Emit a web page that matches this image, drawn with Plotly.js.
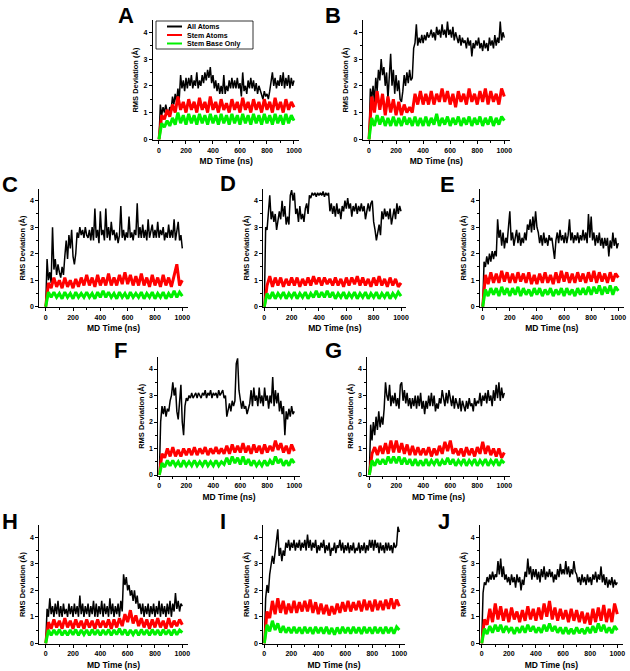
<!DOCTYPE html>
<html><head><meta charset="utf-8">
<script src="https://cdn.plot.ly/plotly-3.0.1.min.js"></script>
<style>body{margin:0;background:#fff}</style>
</head><body><div id="chart" style="width:630px;height:671px"></div>
<script>
// ---------- DATA ----------
// All-atom traces are read every 10 ns; stem traces every 20 ns.
const time10 = [0,10,20,30,40,50,60,70,80,90,100,110,120,130,140,150,160,170,180,190,200,210,220,230,240,250,260,270,280,290,300,310,320,330,340,350,360,370,380,390,400,410,420,430,440,450,460,470,480,490,500,510,520,530,540,550,560,570,580,590,600,610,620,630,640,650,660,670,680,690,700,710,720,730,740,750,760,770,780,790,800,810,820,830,840,850,860,870,880,890,900,910,920,930,940,950,960,970,980,990,1000];
const time20 = [0,20,40,60,80,100,120,140,160,180,200,220,240,260,280,300,320,340,360,380,400,420,440,460,480,500,520,540,560,580,600,620,640,660,680,700,720,740,760,780,800,820,840,860,880,900,920,940,960,980,1000];
const seriesNames = ['All Atoms','Stem Atoms','Stem Base Only'];
const panelLabels = ['A','B','C','D','E','F','G','H','I','J'];
const xTickVals = [0,200,400,600,800,1000];
const yTickVals = [0,1,2,3,4];
const xTitle = 'MD Time (ns)';
const yTitle = 'RMS Deviation (Å)';

const allA = [0, 1.3,0.9,1.2,1.0,1.3,1.05,0.95,1.2,1.1,1.6, 1.3,1.7,1.4,1.9,1.5,2.4,1.9,2.2,1.8,2.3, 1.9,2.3,2.0,2.4,1.9,2.2,2.0,2.5,1.9,2.2, 2.0,2.4,2.1,2.5,2.2,2.6,2.3,2.7,2.1,2.4, 1.9,2.2,1.8,2.1,1.7,2.0,1.7,2.4,1.7,2.0, 1.8,2.2,1.9,2.3,1.9,2.2,1.9,2.3,1.9,2.1, 1.6,2.5,1.8,2.0,1.7,2.2,1.9,2.3,1.9,2.2, 1.8,2.1,1.7,2.0,1.8,1.7,1.5,1.8,1.6,1.7, 1.5,1.8,2.1,2.5,2.0,2.3,1.9,2.2,2.0,2.4, 2.0,2.5,1.9,2.3,2.0,2.4,1.9,2.3,2.0,2.2];
const stemA = [0, 0.9,0.75,1.1,0.85,1.3,1.0,1.6,1.1,1.4,1.0, 1.5,1.1,1.4,1.0,1.55,1.1,1.4,1.0,1.6,1.1, 1.4,1.0,1.5,1.1,1.35,1.0,1.5,1.1,1.4,1.0, 1.55,1.1,1.4,1.0,1.5,1.1,1.4,1.0,1.5,1.1, 1.4,1.0,1.55,1.1,1.4,1.0,1.5,1.1,1.4,1.2];
const baseA = [0, 0.6,0.45,0.7,0.5,0.8,0.55,1.0,0.6,0.9,0.55, 0.95,0.6,0.9,0.55,0.95,0.6,0.9,0.55,0.95,0.6, 0.9,0.55,0.95,0.6,0.9,0.55,0.95,0.6,0.9,0.55, 0.95,0.6,0.9,0.55,0.95,0.6,0.9,0.55,0.95,0.6, 0.9,0.55,0.95,0.6,0.9,0.55,0.95,0.6,0.9,0.7];

const allB = [0, 1.9,1.5,2.0,1.4,2.3,1.8,2.6,2.2,3.0,2.4, 2.7,2.0,2.5,1.5,2.2,3.2,2.0,2.6,1.7,2.4, 1.8,2.2,1.5,1.4,1.8,2.4,2.0,2.5,2.1,2.6, 2.2,2.3,3.4,3.6,4.3,3.5,3.8,3.6,3.9,3.6, 3.9,3.7,4.0,3.8,3.9,4.1,3.8,4.0,3.7,4.2, 3.9,4.1,3.8,4.3,3.9,4.1,3.8,4.4,3.9,4.1, 3.8,4.2,3.7,4.0,3.8,3.6,3.9,3.5,3.8,3.6, 3.7,3.4,3.8,3.5,3.7,3.1,3.6,3.4,3.7,3.5, 3.8,3.4,3.6,3.3,3.7,3.4,3.6,3.3,3.8,3.5, 3.7,3.4,3.9,3.5,3.8,3.6,4.4,3.7,4.0,3.8];
const stemB = [0, 1.6,1.0,1.8,1.1,1.7,0.9,1.6,1.0,1.5,0.9, 1.4,0.9,1.3,1.0,1.2,1.0,1.7,1.3,1.8,1.3, 1.7,1.3,1.8,1.3,1.7,1.4,1.9,1.4,1.8,1.3, 1.7,1.2,1.8,1.4,1.7,1.3,1.9,1.4,1.7,1.3, 1.8,1.4,1.9,1.3,1.8,1.4,1.7,1.3,1.9,1.6];
const baseB = [0, 0.8,0.5,0.9,0.55,0.85,0.5,0.8,0.5,0.85,0.5, 0.8,0.5,0.85,0.55,0.8,0.5,0.85,0.5,0.8,0.5, 0.85,0.5,0.8,0.55,0.95,0.5,0.8,0.55,0.85,0.5, 0.8,0.55,0.85,0.5,0.8,0.55,0.85,0.5,0.8,0.55, 0.85,0.5,0.8,0.55,0.85,0.5,0.8,0.55,0.85,0.7];

const allC = [0, 1.8,1.0,1.3,0.9,3.0,1.4,1.8,1.2,1.6,1.3, 1.1,1.5,1.2,1.9,2.5,1.8,2.7,2.2,2.9,1.9, 1.6,2.0,2.8,2.6,3.0,2.7,2.9,2.6,3.0,2.7, 2.6,2.9,2.5,3.0,2.5,3.7,2.6,2.9,2.4,3.6, 2.7,2.9,2.5,3.7,2.6,3.0,2.5,3.2,2.7,2.9, 2.5,2.8,2.4,2.7,3.8,2.6,2.9,2.5,2.8,2.6, 3.4,2.6,2.8,2.5,2.9,2.7,3.9,2.6,3.0,2.6, 3.1,2.6,2.9,2.5,3.3,2.6,2.8,3.1,2.6,2.9, 2.6,3.2,2.6,2.9,2.7,3.0,2.5,2.8,2.6,3.1, 2.6,2.9,2.6,3.3,2.5,2.8,3.2,2.5,2.7,2.2];
const stemC = [0, 0.9,0.7,1.1,0.75,1.0,0.7,1.1,0.75,1.0,0.7, 1.05,0.75,1.1,0.8,1.2,0.8,1.1,0.75,1.2,0.8, 1.1,0.8,1.25,0.8,1.1,0.8,1.2,0.85,1.3,0.85, 1.2,0.8,1.15,0.8,1.25,0.8,1.1,0.75,1.2,0.8, 1.1,0.75,1.2,0.8,1.1,0.75,1.2,1.6,0.8,1.0];
const baseC = [0, 0.55,0.35,0.55,0.35,0.5,0.3,0.55,0.35,0.5,0.3, 0.55,0.35,0.5,0.35,0.55,0.35,0.5,0.3,0.55,0.35, 0.6,0.35,0.55,0.35,0.5,0.3,0.55,0.35,0.5,0.3, 0.55,0.35,0.5,0.35,0.55,0.3,0.5,0.35,0.55,0.3, 0.5,0.35,0.55,0.3,0.5,0.35,0.6,0.35,0.55,0.4];

const allD = [0, 3.0,2.9,3.7,4.2,3.3,3.6,3.2,3.5,2.9,3.3, 3.6,3.3,4.0,3.4,3.8,3.1,3.4,3.1,4.2,4.4, 4.0,4.3,3.5,3.7,3.2,3.8,3.3,3.5,3.2,3.7, 3.9,3.5,4.2,4.1,4.3,4.2,4.3,4.15,4.3,4.2, 4.3,4.2,4.35,4.15,4.3,4.2,4.3,3.6,3.9,3.5, 3.8,3.4,3.9,3.5,3.7,3.3,3.8,3.6,4.0,3.7, 4.1,3.7,3.9,3.4,3.8,3.6,3.9,3.5,3.8,3.6, 3.9,3.6,3.8,3.3,3.7,3.9,3.6,3.9,4.0,3.2, 2.9,2.5,2.8,3.1,2.7,3.6,3.3,3.7,3.4,3.6, 3.3,3.7,3.1,3.4,3.7,3.3,3.9,3.5,3.8,3.6];
const stemD = [0, 0.8,1.15,0.75,1.1,0.8,1.1,0.75,1.05,0.8,1.1, 0.8,1.1,0.75,1.05,0.8,1.1,0.8,1.15,0.85,1.1, 0.8,1.1,0.85,1.05,0.8,1.1,0.8,1.05,0.75,1.1, 0.8,1.1,0.85,1.15,0.8,1.1,0.8,1.05,0.75,1.1, 0.8,1.15,0.8,1.05,0.75,1.1,0.8,1.05,0.75,0.9];
const baseD = [0, 0.5,0.3,0.55,0.3,0.5,0.35,0.55,0.3,0.5,0.35, 0.55,0.3,0.5,0.35,0.55,0.3,0.5,0.35,0.6,0.35, 0.55,0.35,0.6,0.35,0.55,0.3,0.5,0.35,0.55,0.3, 0.5,0.35,0.55,0.3,0.5,0.35,0.55,0.3,0.5,0.35, 0.55,0.3,0.5,0.35,0.55,0.3,0.5,0.35,0.55,0.4];

const allE = [0, 1.7,1.5,1.9,1.6,2.0,1.7,2.1,1.8,2.1,1.9, 3.3,2.6,2.9,2.3,2.8,2.2,2.6,2.4,2.9,3.6, 2.5,2.8,2.3,2.6,2.9,2.4,2.8,2.3,2.6,2.4, 2.8,2.5,3.1,2.9,3.3,2.8,3.4,2.9,3.6,3.0, 2.8,2.4,2.7,2.3,2.8,2.4,2.6,2.3,2.7,2.5, 2.6,2.2,1.8,2.5,2.8,2.4,2.9,2.5,2.7,2.4, 2.8,2.4,2.7,3.3,2.5,2.8,2.4,2.7,2.5,2.8, 2.4,2.7,2.5,2.9,2.5,2.8,2.4,3.5,2.6,3.4, 2.5,2.8,2.3,2.7,2.4,2.8,2.3,2.6,2.2,2.6, 2.3,2.6,1.9,2.5,2.2,2.8,2.3,2.6,2.2,2.4];
const stemE = [0, 1.2,0.85,1.3,0.9,1.25,0.9,1.35,0.95,1.3,0.9, 1.25,0.9,1.3,0.95,1.25,0.9,1.3,0.85,1.2,0.85, 1.25,0.9,1.3,0.9,1.2,0.85,1.3,0.9,1.35,0.95, 1.3,0.9,1.25,0.9,1.3,0.95,1.25,0.9,1.3,0.95, 1.35,0.9,1.3,0.95,1.25,0.9,1.3,0.95,1.25,1.1];
const baseE = [0, 0.65,0.4,0.7,0.45,0.7,0.4,0.75,0.45,0.7,0.4, 0.7,0.45,0.75,0.4,0.7,0.45,0.65,0.4,0.7,0.45, 0.7,0.4,0.65,0.45,0.7,0.4,0.65,0.45,0.7,0.4, 0.7,0.45,0.65,0.4,0.7,0.45,0.7,0.45,0.75,0.45, 0.75,0.5,0.8,0.45,0.75,0.5,0.8,0.45,0.75,0.6];

const allF = [0, 2.0,2.6,2.3,2.6,2.2,2.5,2.4,2.8,3.0,3.5, 3.0,3.3,2.4,2.1,2.7,3.4,2.0,1.5,2.6,2.9, 2.8,3.0,2.9,3.1,2.9,3.0,3.1,2.9,3.1,3.0, 2.9,3.1,3.0,3.2,2.9,3.1,3.0,3.2,2.9,3.1, 3.0,3.1,2.9,3.2,3.0,3.1,3.2,2.9,3.0,2.2, 2.5,2.7,2.4,2.8,2.6,2.8,4.2,4.4,3.2,2.8, 2.5,2.8,2.5,2.6,2.3,2.5,2.7,3.2,2.6,3.3, 2.8,3.0,2.6,3.3,2.7,3.0,2.6,3.3,2.8,3.0, 2.5,3.0,2.7,3.7,2.6,3.2,2.7,3.1,2.4,2.8, 2.3,2.6,1.5,2.4,2.1,2.5,2.2,2.6,2.3,2.4];
const stemF = [0, 0.8,0.65,1.0,0.7,1.05,0.7,0.95,0.7,1.0,0.75, 1.0,0.75,1.05,0.75,1.0,0.8,1.05,0.75,1.0,0.8, 1.05,0.8,1.0,0.8,1.1,0.8,1.15,0.85,1.1,0.85, 1.2,0.85,1.1,0.8,1.15,0.85,1.1,0.8,1.15,0.85, 1.1,0.9,1.3,0.95,1.2,0.85,1.1,0.8,1.15,0.9];
const baseF = [0, 0.45,0.3,0.55,0.35,0.55,0.35,0.5,0.3,0.55,0.35, 0.5,0.35,0.55,0.35,0.5,0.35,0.55,0.35,0.5,0.35, 0.55,0.35,0.5,0.4,0.65,0.4,0.7,0.45,0.65,0.4, 0.7,0.4,0.6,0.35,0.55,0.35,0.5,0.35,0.55,0.35, 0.55,0.4,0.7,0.45,0.6,0.35,0.55,0.35,0.6,0.45];

const allG = [0, 1.9,1.3,2.0,1.5,2.2,1.7,2.4,1.8,2.2,1.9, 2.5,3.5,3.0,2.8,3.4,2.6,3.0,2.7,3.1,2.6, 2.9,2.5,3.4,3.5,2.8,3.2,2.7,3.1,2.6,2.9, 2.5,2.9,2.6,3.0,2.5,3.0,2.6,3.1,2.5,2.8, 2.3,2.8,2.5,3.0,2.6,3.1,2.6,3.0,2.4,2.7, 2.5,2.9,2.7,3.2,2.8,2.6,3.1,2.7,3.2,2.8, 2.6,3.0,2.5,2.9,2.7,2.5,2.9,2.4,2.8,2.6, 2.4,2.8,2.5,2.9,2.6,2.7,2.4,2.9,2.6,2.8, 2.7,3.1,2.6,3.0,2.8,3.1,2.7,3.2,2.8,3.0, 2.6,3.2,2.8,3.4,2.9,3.5,2.8,3.3,2.9,3.1];
const stemG = [0, 0.8,1.05,0.75,1.1,0.8,1.2,0.8,1.3,0.85,1.3, 0.85,1.2,0.8,1.15,0.75,1.1,0.75,1.05,0.75,1.0, 0.75,1.05,0.7,1.0,0.75,1.1,0.8,1.25,0.9,1.3, 0.8,1.0,0.75,1.0,0.7,1.05,0.75,1.0,0.7,1.05, 0.8,1.25,0.8,1.1,0.75,1.0,0.7,1.0,0.65,0.85];
const baseG = [0, 0.55,0.35,0.6,0.4,0.6,0.4,0.7,0.45,0.7,0.45, 0.7,0.4,0.65,0.4,0.6,0.35,0.6,0.35,0.55,0.35, 0.6,0.35,0.55,0.4,0.6,0.35,0.55,0.4,0.65,0.4, 0.6,0.35,0.55,0.4,0.6,0.35,0.55,0.4,0.6,0.35, 0.55,0.4,0.6,0.35,0.55,0.4,0.6,0.35,0.55,0.45];

const allH = [0, 1.3,1.0,1.7,1.1,1.4,1.0,1.5,1.1,1.6,1.0, 1.4,1.0,1.5,1.1,1.3,1.0,1.5,1.1,1.4,1.0, 1.5,1.1,1.4,1.0,1.8,1.1,1.5,1.0,1.4,1.1, 1.5,1.0,1.4,1.1,1.6,1.0,1.5,1.0,1.4,1.1, 1.6,1.0,1.5,1.1,1.4,1.0,1.7,1.1,1.5,1.0, 1.4,1.1,1.5,1.0,1.6,1.2,2.6,2.2,2.5,2.0, 2.2,1.8,2.0,1.6,2.0,1.5,1.8,1.3,1.5,1.1, 1.5,1.0,1.4,1.1,1.5,1.0,1.4,1.1,1.5,1.0, 1.4,1.1,1.6,1.0,1.5,1.1,1.4,1.0,1.5,1.1, 1.6,1.0,1.5,1.2,1.9,1.3,1.6,1.2,1.5,1.4];
const stemH = [0, 0.8,0.55,0.9,0.6,0.85,0.55,0.95,0.6,0.85,0.55, 0.9,0.6,0.85,0.55,0.9,0.6,0.85,0.55,0.9,0.6, 0.85,0.6,0.9,0.55,0.9,0.6,0.95,0.65,1.1,0.8, 1.25,0.75,1.05,0.65,0.95,0.6,0.9,0.55,0.9,0.6, 0.95,0.6,0.85,0.55,0.95,0.6,0.85,0.65,0.9,0.7];
const baseH = [0, 0.5,0.3,0.5,0.32,0.52,0.3,0.48,0.3,0.5,0.32, 0.52,0.3,0.5,0.33,0.5,0.3,0.52,0.32,0.5,0.3, 0.5,0.32,0.52,0.3,0.5,0.33,0.55,0.32,0.52,0.3, 0.5,0.33,0.5,0.3,0.52,0.32,0.5,0.3,0.52,0.32, 0.5,0.3,0.52,0.33,0.5,0.3,0.52,0.32,0.5,0.4];

const allI = [0, 1.7,2.2,1.9,2.6,2.9,3.3,3.0,3.5,4.0,4.3, 3.3,3.6,3.1,3.5,3.3,3.8,3.6,3.9,3.5,3.8, 3.6,3.9,3.5,3.8,3.6,3.9,3.5,3.8,3.6,3.9, 3.5,4.1,3.6,3.9,3.5,3.8,3.6,3.9,3.4,3.7, 3.5,3.8,3.6,3.9,3.4,3.7,3.5,3.8,3.3,3.6, 3.5,3.8,3.4,3.7,3.6,3.9,3.5,3.8,3.4,3.7, 3.5,3.8,3.4,3.7,3.5,3.8,3.4,3.6,3.5,3.8, 3.4,3.7,3.5,3.8,3.4,3.7,3.5,3.9,3.6,3.9, 3.5,3.9,3.6,3.8,3.4,3.8,3.5,3.7,3.4,3.8, 3.5,3.8,3.5,3.7,3.4,3.8,3.6,3.7,4.4,4.2];
const stemI = [0, 1.2,0.95,1.6,1.1,1.7,1.15,1.6,1.1,1.5,1.15, 1.6,1.15,1.55,1.2,1.6,1.2,1.65,1.15,1.55,1.1, 1.5,1.1,1.45,1.05,1.4,1.1,1.5,1.15,1.55,1.2, 1.6,1.2,1.55,1.25,1.6,1.2,1.65,1.25,1.6,1.2, 1.65,1.25,1.6,1.25,1.65,1.3,1.7,1.3,1.65,1.4];
const baseI = [0, 0.7,0.45,0.85,0.5,0.75,0.4,0.65,0.4,0.6,0.38, 0.62,0.38,0.6,0.36,0.62,0.38,0.6,0.35,0.62,0.38, 0.6,0.36,0.62,0.35,0.58,0.32,0.6,0.36,0.62,0.38, 0.6,0.36,0.62,0.38,0.6,0.35,0.62,0.38,0.6,0.36, 0.62,0.38,0.6,0.36,0.62,0.38,0.6,0.36,0.62,0.5];

const allJ = [0, 1.9,2.3,2.2,2.5,2.3,2.6,2.4,2.7,2.4,2.6, 2.5,3.1,2.6,3.2,2.5,2.9,2.4,2.6,2.3,2.5, 2.2,2.6,2.3,2.5,2.1,2.6,2.3,2.5,2.0,2.4, 2.2,2.7,2.5,3.2,2.6,2.9,2.4,2.8,2.5,2.8, 2.4,2.7,2.3,2.8,2.5,2.9,2.4,2.7,2.5,2.8, 2.5,2.7,2.3,2.6,2.4,2.8,2.5,3.0,2.6,2.8, 2.6,3.1,2.6,2.9,2.5,2.8,2.6,3.1,2.7,2.6, 2.3,2.5,2.2,2.6,2.3,2.5,2.2,2.6,2.3,2.5, 2.2,2.6,2.4,2.7,2.3,2.6,2.4,2.9,2.3,2.6, 2.2,2.5,2.1,2.4,2.2,2.5,2.1,2.4,2.2,2.3];
const stemJ = [0, 0.9,0.7,1.3,0.8,1.5,0.9,1.4,0.85,1.3,0.8, 1.35,0.9,1.2,0.8,1.25,0.85,1.4,0.9,1.3,0.85, 1.35,0.9,1.5,1.0,1.6,0.9,1.35,0.85,1.3,0.9, 1.25,0.8,1.3,0.85,1.25,0.8,1.2,0.75,1.15,0.7, 1.3,0.8,1.35,0.85,1.45,0.8,1.3,0.8,1.5,1.1];
const baseJ = [0, 0.55,0.35,0.65,0.4,0.7,0.45,0.7,0.4,0.65,0.45, 0.6,0.35,0.6,0.4,0.65,0.4,0.7,0.45,0.65,0.4, 0.6,0.4,0.7,0.45,0.75,0.45,0.65,0.4,0.6,0.35, 0.6,0.35,0.55,0.35,0.6,0.38,0.55,0.35,0.6,0.38, 0.65,0.4,0.75,0.45,0.7,0.4,0.6,0.38,0.65,0.5];

const panelSeries = [
  [allA,stemA,baseA],[allB,stemB,baseB],[allC,stemC,baseC],[allD,stemD,baseD],[allE,stemE,baseE],
  [allF,stemF,baseF],[allG,stemG,baseG],[allH,stemH,baseH],[allI,stemI,baseI],[allJ,stemJ,baseJ]
];
const seriesTime = [time10, time20, time20];

// ---------- LAYOUT GEOMETRY (pixels) ----------
const W = 630, H = 671;
const colors = ['#000000','#ff0000','#00f000'];
const widths = [1.5,3,3];
const XMAX = 1040, YMIN = -0.03, YMAX = 4.46;
const geom = [
  {x0:159,  x1:294,   xmin:-45, y0:139.3, y4:32.3,  lx:126, ly:16},
  {x0:369,  x1:504.3, xmin:-45, y0:139.3, y4:32.3,  lx:333, ly:15},
  {x0:45.7, x1:182.3, xmin:-47, y0:306.7, y4:200.7, lx:10,  ly:184},
  {x0:264.3,x1:401,   xmin:-7,  y0:306.7, y4:200.7, lx:228, ly:183},
  {x0:482.7,x1:618.3, xmin:-20, y0:306.7, y4:200.7, lx:447, ly:184},
  {x0:159.3,x1:294.3, xmin:-7,  y0:475,   y4:369,   lx:120, ly:350},
  {x0:369.3,x1:504.3, xmin:-15, y0:475,   y4:369,   lx:333, ly:350},
  {x0:45.7, x1:182.3, xmin:-47, y0:643.3, y4:537.3, lx:10,  ly:521},
  {x0:264.3,x1:399.3, xmin:-7,  y0:643.3, y4:537.3, lx:223, ly:521},
  {x0:481.7,x1:617.3, xmin:-12, y0:643.3, y4:537.3, lx:444, ly:521}
];

const FONT = 'Arial, "Liberation Sans", sans-serif';
const traces = [];
const layout = {
  width: W, height: H, margin: {l:0,r:0,t:0,b:0},
  paper_bgcolor: '#fff', plot_bgcolor: 'rgba(0,0,0,0)',
  showlegend: false, hovermode: false,
  font: {family: FONT, color: '#000'},
  annotations: [], shapes: []
};

geom.forEach((g, i) => {
  const n = i === 0 ? '' : String(i + 1);
  const ppn = (g.x1 - g.x0) / 1000;
  const left = g.x0 + g.xmin * ppn, right = g.x0 + XMAX * ppn;
  const ppu = (g.y0 - g.y4) / 4;
  const bottom = g.y0 - YMIN * ppu, top = g.y0 - YMAX * ppu;
  layout['xaxis' + n] = {
    domain: [left / W, right / W], range: [g.xmin, XMAX], anchor: 'y' + n,
    showline: true, linecolor: '#000', linewidth: 1, showgrid: false, zeroline: false,
    ticks: 'outside', ticklen: 3, tickwidth: 1, tickcolor: '#000',
    tickvals: xTickVals, ticktext: xTickVals.map(String),
    minor: {tickvals: [100,300,500,700,900], ticks: 'outside', ticklen: 2, tickcolor: '#000', showgrid: false},
    tickfont: {family: FONT, size: 7, weight: 700, color: '#000'},
    title: {text: xTitle, font: {family: FONT, size: 8.5, weight: 700, color: '#000'}, standoff: 5},
    automargin: false, fixedrange: true
  };
  layout['yaxis' + n] = {
    domain: [1 - bottom / H, 1 - top / H], range: [YMIN, YMAX], anchor: 'x' + n,
    showline: true, linecolor: '#000', linewidth: 1, showgrid: false, zeroline: false,
    ticks: 'outside', ticklen: 3, tickwidth: 1, tickcolor: '#000',
    tickvals: yTickVals, ticktext: yTickVals.map(String),
    minor: {tickvals: [0.5,1.5,2.5,3.5], ticks: 'outside', ticklen: 2, tickcolor: '#000', showgrid: false},
    tickfont: {family: FONT, size: 7, weight: 700, color: '#000'},
    title: {text: yTitle, font: {family: FONT, size: 7.5, weight: 700, color: '#000'}, standoff: 3},
    automargin: false, fixedrange: true
  };
  panelSeries[i].forEach((ys, k) => {
    traces.push({
      type: 'scatter', mode: 'lines', x: seriesTime[k], y: ys, name: seriesNames[k],
      xaxis: 'x' + n, yaxis: 'y' + n,
      line: {color: colors[k], width: widths[k], shape: 'linear'}
    });
  });
  layout.annotations.push({
    text: panelLabels[i], xref: 'paper', yref: 'paper', x: g.lx / W, y: 1 - g.ly / H,
    xanchor: 'center', yanchor: 'middle', showarrow: false,
    font: {family: FONT, size: 22, weight: 700, color: '#000'}
  });
});

// legend (drawn inside panel A)
const px = v => v / W, py = v => 1 - v / H;
layout.shapes.push({type: 'rect', xref: 'paper', yref: 'paper', x0: px(156), x1: px(253), y0: py(49), y1: py(21),
  line: {color: '#000', width: 0.8}, fillcolor: 'rgba(0,0,0,0)'});
const legY = [26.5, 35, 43.5];
seriesNames.forEach((name, k) => {
  layout.shapes.push({type: 'line', xref: 'paper', yref: 'paper', x0: px(167), x1: px(182), y0: py(legY[k]), y1: py(legY[k]),
    line: {color: colors[k], width: 2}});
  layout.annotations.push({text: name, xref: 'paper', yref: 'paper', x: px(185), y: py(legY[k]),
    xanchor: 'left', yanchor: 'middle', showarrow: false,
    font: {family: FONT, size: 7, weight: 700, color: '#000'}});
});

Plotly.newPlot('chart', traces, layout, {staticPlot: true, displayModeBar: false});
</script>
</body></html>
